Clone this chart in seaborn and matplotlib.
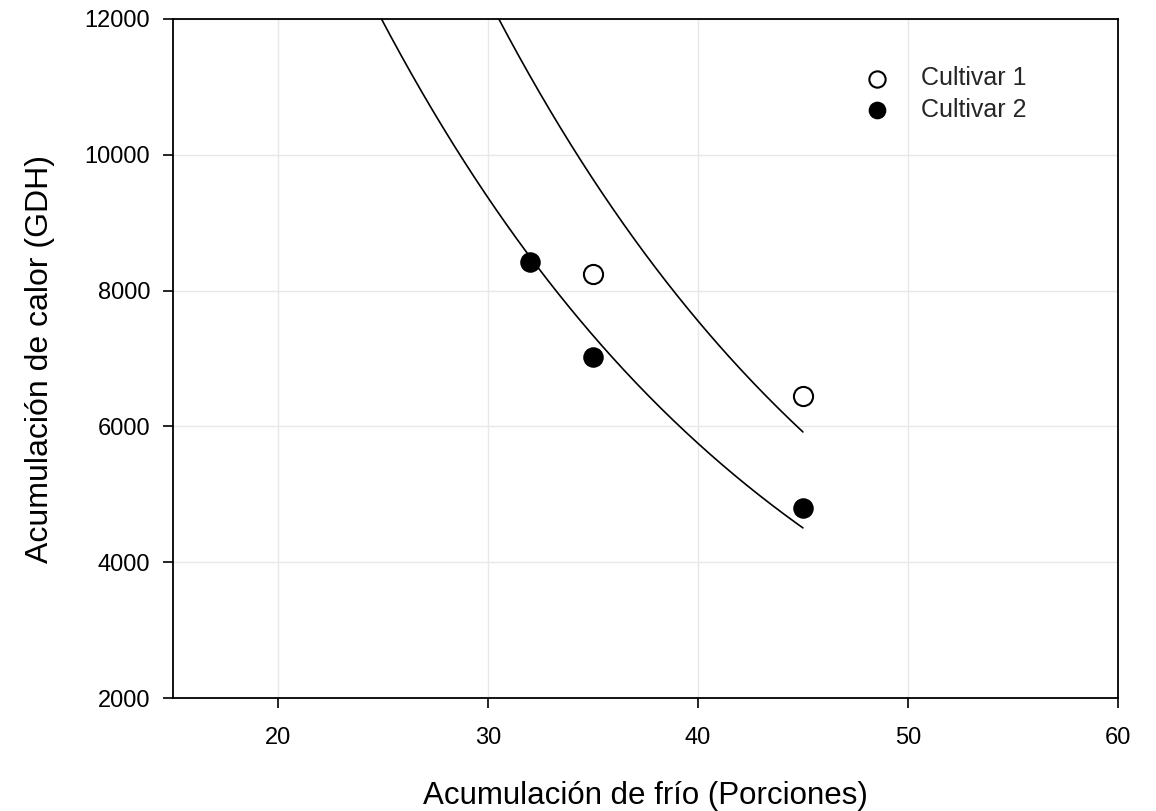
import numpy as np
import pandas as pd
import matplotlib
matplotlib.use("Agg")
import matplotlib.pyplot as plt
import seaborn as sns

# Observed points
c1_frio = [35, 45]
c1_calor = [8250, 6450]
c2_frio = [32, 35, 45]
c2_calor = [8420, 7020, 4800]

# Fitted exponential curves: calor = a * exp(-b * frio)
fit_a = [53200, 40500]
fit_b = [0.0488, 0.0488]
fit_x_end = 45

sns.set_theme(style="white")
plt.rcParams["font.family"] = ["Liberation Sans", "DejaVu Sans"]

fig = plt.figure(figsize=(11.56, 8.11), dpi=100)
ax = fig.add_axes([0.1497, 0.1393, 0.967 - 0.1497, 0.9766 - 0.1393])

ax.grid(True, color="#e8e8e8", linewidth=1.0, zorder=0)
ax.set_axisbelow(True)

xs = np.linspace(20, fit_x_end, 300)
for a, b in zip(fit_a, fit_b):
    curve = pd.DataFrame({"x": xs, "y": a * np.exp(-b * xs)})
    sns.lineplot(data=curve, x="x", y="y", ax=ax, color="black", linewidth=1.2, zorder=2)

sns.scatterplot(x=c1_frio, y=c1_calor, ax=ax, s=190, facecolor="white",
                edgecolor="black", linewidth=1.5, zorder=3, label="Cultivar 1")
sns.scatterplot(x=c2_frio, y=c2_calor, ax=ax, s=190, facecolor="black",
                edgecolor="black", linewidth=1.0, zorder=3, label="Cultivar 2")

ax.set_xlim(15, 60)
ax.set_ylim(2000, 12000)
ax.set_xticks([20, 30, 40, 50, 60])
ax.set_yticks([2000, 4000, 6000, 8000, 10000, 12000])
ax.tick_params(axis="both", direction="out", length=7, width=1.2, labelsize=17,
               color="black", labelcolor="black", bottom=True, left=True)
ax.tick_params(axis="x", pad=14)
ax.tick_params(axis="y", pad=9.5)
for sp in ax.spines.values():
    sp.set_color("black")
    sp.set_linewidth(1.3)

ax.set_xlabel("Acumulación de frío (Porciones)", fontsize=22.5, labelpad=23, color="black")
ax.set_ylabel("Acumulación de calor (GDH)", fontsize=23, labelpad=21, color="black")

leg = ax.legend(loc="upper left", bbox_to_anchor=(0.721, 0.945), frameon=False,
                fontsize=18, markerscale=0.85, handletextpad=1.25, labelspacing=0.3,
                handlelength=1.0, borderaxespad=0)

fig.savefig("out.png", dpi=100)
